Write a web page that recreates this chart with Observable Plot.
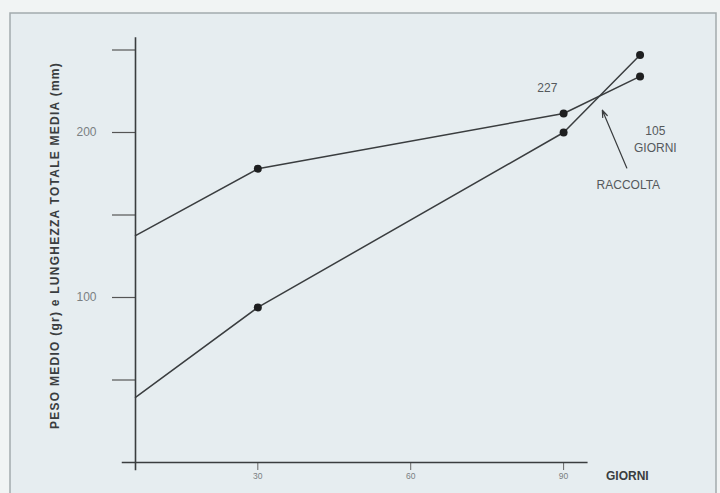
<!DOCTYPE html>
<html>
<head>
<meta charset="utf-8">
<script src="https://cdn.jsdelivr.net/npm/d3@7"></script>
<script src="https://cdn.jsdelivr.net/npm/@observablehq/plot@0.6"></script>
<style>
  html, body { margin: 0; padding: 0; background: #f1f4f4; }
  #chart svg { display: block; }
</style>
</head>
<body>
<div id="chart"></div>
<script>
// Data
const days = [6, 30, 90, 105];
const lunghezza = [137.5, 178, 211.5, 234];   // lunghezza totale media (mm)
const peso = [39.5, 94, 200, 247];            // peso medio (gr)
const yTicks = [50, 100, 150, 200, 250];
const yTickLabels = {100: "100", 200: "200"};
const xTicks = [30, 60, 90];
const yLabel = "PESO MEDIO (gr) e LUNGHEZZA TOTALE MEDIA (mm)";
const notes = [
  {x: 86.8, y: 226.7, text: "227"},
  {x: 108, y: 200.6, text: "105"},
  {x: 108, y: 190.3, text: "GIORNI"},
  {x: 102.7, y: 168, text: "RACCOLTA"}
];
const arrowData = [{x1: 102.4, y1: 178.5, x2: 97.6, y2: 213.5}];

const series = [
  ...days.map((d, i) => ({day: d, value: lunghezza[i], s: "lunghezza"})),
  ...days.map((d, i) => ({day: d, value: peso[i], s: "peso"}))
];
const pts = series.filter(d => d.day > 6);

const chart = Plot.plot({
  width: 720,
  height: 493,
  marginLeft: 135,
  marginRight: 4,
  marginTop: 0,
  marginBottom: 31,
  x: {domain: [6, 120], axis: null},
  y: {domain: [0, 280], axis: null},
  style: {background: "transparent", fontFamily: "Liberation Sans, Arial, sans-serif"},
  marks: [
    Plot.axisY({
      ticks: yTicks,
      tickFormat: d => yTickLabels[d] || "",
      tickSize: 23,
      tickPadding: 16,
      fontSize: 12,
      stroke: "#555",
      strokeWidth: 1.2,
      fill: "#7a7f82",
      label: null
    }),
    Plot.axisX({
      ticks: xTicks,
      tickSize: 8,
      tickPadding: 2,
      fontSize: 8.5,
      stroke: "#666",
      fill: "#7a7f82",
      label: null
    }),
    Plot.ruleX([6], {y1: -5, y2: 257.5, stroke: "#3a3d3f", strokeWidth: 1.6}),
    Plot.ruleY([0], {x1: 3.4, x2: 94.8, stroke: "#3a3d3f", strokeWidth: 1.6}),
    Plot.line(series, {x: "day", y: "value", z: "s", stroke: "#3a3d3f", strokeWidth: 1.5}),
    Plot.dot(pts, {x: "day", y: "value", r: 4, fill: "#1e1f20"}),
    Plot.text(notes, {x: "x", y: "y", text: "text", fontSize: 12, fill: "#55595c"}),
    Plot.arrow(arrowData, {x1: "x1", y1: "y1", x2: "x2", y2: "y2", stroke: "#3a3d3f", strokeWidth: 1.2, headLength: 9, headAngle: 40}),
    Plot.text(["GIORNI"], {x: 102.5, y: -8.5, text: d => d, fontSize: 12, fontWeight: "bold", fill: "#3a3d3f"}),
    Plot.text([yLabel], {frameAnchor: "left", textAnchor: "middle", dx: -80, dy: 14, rotate: -90, text: d => d, fontSize: 12, fontWeight: "bold", fill: "#3a3d3f"})
  ]
});

const svg = d3.select(chart);
// widen the letter spacing of the vertical label, as in the scan
svg.selectAll("text").filter(function() { return this.textContent === yLabel; })
  .style("letter-spacing", "1.25px");

// frame rectangle of the scanned figure
svg.insert("rect", ":first-child")
  .attr("x", 10).attr("y", 13).attr("width", 706).attr("height", 500)
  .attr("fill", "#e6edf0").attr("stroke", "#a3aaad").attr("stroke-width", 1.5);

document.getElementById("chart").appendChild(chart);
</script>
</body>
</html>
